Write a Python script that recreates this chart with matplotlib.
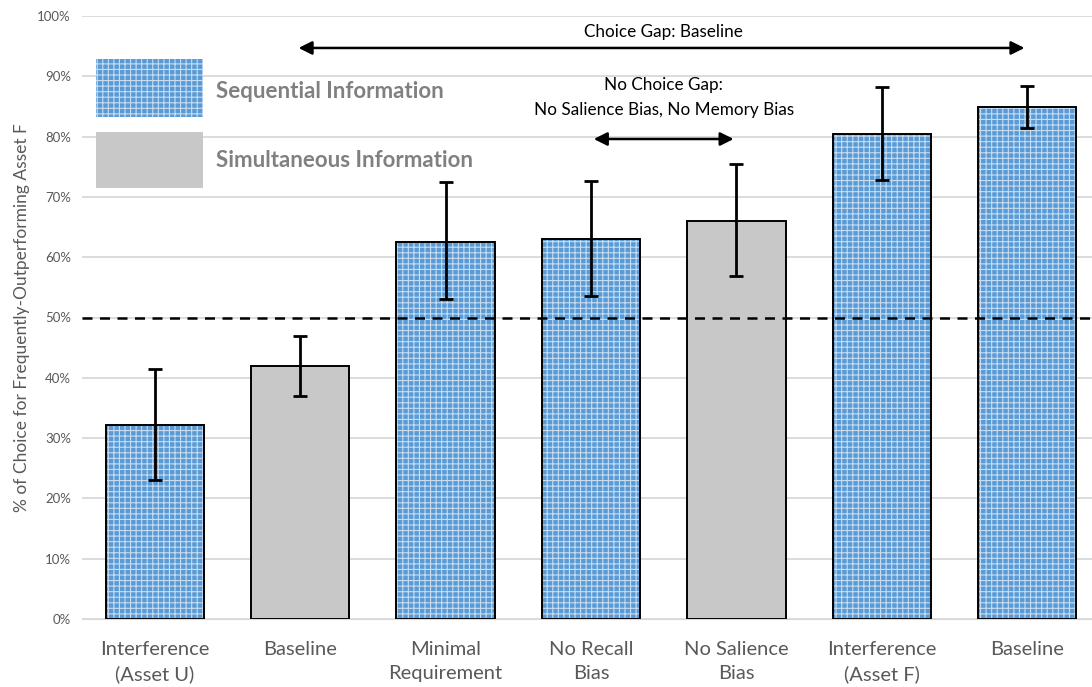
import numpy as np
import matplotlib
matplotlib.use("Agg")
import matplotlib.pyplot as plt
from matplotlib.patches import Rectangle

plt.rcParams['font.family'] = ['Lato', 'DejaVu Sans']
plt.rcParams['hatch.linewidth'] = 0.8

# ===== data =====
categories = ["Interference\n(Asset U)", "Baseline", "Minimal\nRequirement",
              "No Recall\nBias", "No Salience\nBias", "Interference\n(Asset F)", "Baseline"]
values = [32.2, 42.0, 62.6, 63.0, 66.0, 80.4, 84.9]
err_low = [23.0, 37.0, 53.0, 53.5, 56.8, 72.8, 81.5]
err_high = [41.5, 47.0, 72.4, 72.6, 75.4, 88.2, 88.4]
kinds = ["seq", "sim", "seq", "seq", "sim", "seq", "seq"]
legend_labels = ["Sequential Information", "Simultaneous Information"]
# ================

BLUE = "#5B9BD5"
HATCH_C = "#C5DCF2"
GRAY = "#C8C8C8"
TXT = "#595959"

fig = plt.figure(figsize=(10.92, 6.87), dpi=100)
ax = fig.add_axes([82 / 1092, 68 / 687, 1018 / 1092, 603 / 687])

x = np.arange(len(categories))
vals = np.array(values)
yerr = np.vstack([vals - np.array(err_low), np.array(err_high) - vals])

for i, (v, k) in enumerate(zip(values, kinds)):
    if k == "seq":
        ax.bar(x[i], v, width=0.675, color=BLUE, edgecolor=HATCH_C, hatch="+++",
               linewidth=0, zorder=2)
    else:
        ax.bar(x[i], v, width=0.675, color=GRAY, linewidth=0, zorder=2)
    ax.bar(x[i], v, width=0.675, color="none", edgecolor="black", linewidth=1.4, zorder=3)

ax.errorbar(x, vals, yerr=yerr, fmt="none", ecolor="black", elinewidth=2,
            capsize=5, capthick=2, zorder=4)

ax.axhline(50, color="black", linestyle=(0, (4, 3)), linewidth=1.8, zorder=5)

ax.set_xlim(-0.5, len(categories) - 0.5)
ax.set_ylim(0, 100)
ax.set_yticks(np.arange(0, 101, 10))
ax.set_yticklabels([f"{t}%" for t in range(0, 101, 10)], color=TXT, fontsize=9.5)
ax.set_xticks(x)
ax.set_xticklabels(categories, fontsize=14.5, color=TXT, linespacing=1.45)
ax.tick_params(axis="both", length=0, pad=8)
ax.tick_params(axis="x", pad=16)
ax.grid(axis="y", color="#D9D9D9", linewidth=1.3, zorder=0)
ax.set_axisbelow(True)
for s in ax.spines.values():
    s.set_visible(False)
ax.spines["bottom"].set_visible(True)
ax.spines["bottom"].set_color("#D9D9D9")
ax.set_ylabel("% of Choice for Frequently-Outperforming Asset F", fontsize=12.5,
              color=TXT, labelpad=5)

# legend drawn as patches in data space
ax.add_patch(Rectangle((-0.405, 83.2), 0.74, 9.6, facecolor=BLUE, edgecolor=HATCH_C,
                       hatch="+++", linewidth=0, zorder=2))
ax.add_patch(Rectangle((-0.405, 71.5), 0.74, 9.3, facecolor=GRAY, linewidth=0, zorder=2))
ax.text(0.42, 87.4, legend_labels[0], fontsize=16, fontweight="bold", color="#808080",
        va="center", ha="left")
ax.text(0.42, 76.0, legend_labels[1], fontsize=16, fontweight="bold", color="#808080",
        va="center", ha="left")

# annotations
arrow = dict(arrowstyle="<|-|>", color="black", lw=1.8, mutation_scale=20)
ax.annotate("", xy=(6.0, 94.7), xytext=(0.97, 94.7), arrowprops=arrow)
ax.text(3.5, 97.3, "Choice Gap: Baseline", ha="center", va="center", fontsize=12.3,
        color="black")
ax.annotate("", xy=(4.0, 79.6), xytext=(3.0, 79.6), arrowprops=arrow)
ax.text(3.5, 86.5, "No Choice Gap:\nNo Salience Bias, No Memory Bias", ha="center",
        va="center", fontsize=12.3, color="black", linespacing=1.65)

fig.savefig("out.png", dpi=100)
